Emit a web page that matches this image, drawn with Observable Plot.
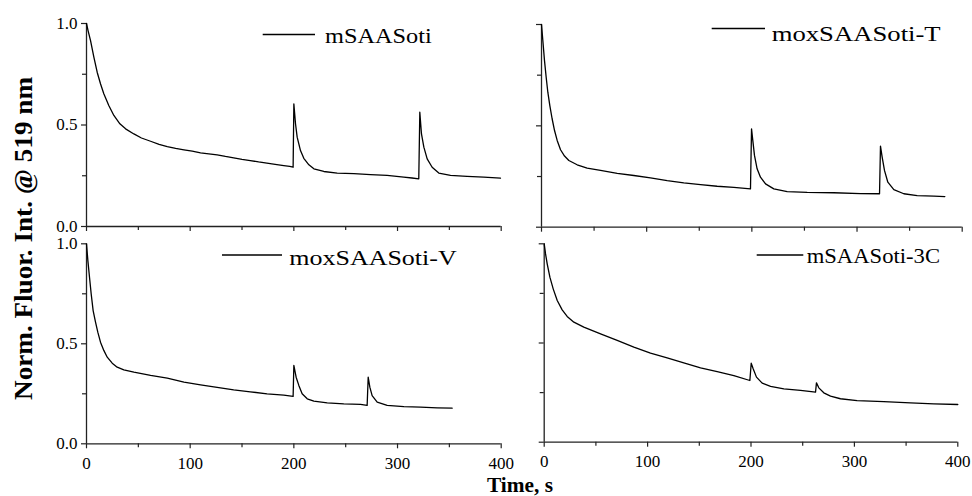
<!DOCTYPE html>
<html><head><meta charset="utf-8">
<script src="https://cdn.jsdelivr.net/npm/d3@7"></script>
<script src="https://cdn.jsdelivr.net/npm/@observablehq/plot@0.6"></script>
<style>
body{margin:0;background:#fff;}
#chart{position:relative;width:972px;height:496px;}
#chart svg{position:absolute;left:0;top:0;overflow:visible;}
#chart svg, #chart svg text{font-family:"Liberation Serif","Times New Roman","Nimbus Roman","DejaVu Serif",serif !important;}
</style></head><body><div id="chart"></div>
<script>
// Series names (legend labels)
const names = ["mSAASoti", "moxSAASoti-T", "moxSAASoti-V", "mSAASoti-3C"];

// mSAASoti
const tA = [0,1.5,3.9,7.1,10.3,13.5,16.7,21.5,26.4,32.2,37.7,45.7,53,61.8,70,77.9,86,94,102,110,118,126,134,142,150,158,166,174,182,190.3,196,199.3,
  200,201.6,203.2,206.4,209.6,214.5,219.3,228.9,241.8,257.9,273.9,290,306,314,320.5,
  321.5,323.1,325.4,328.6,333.4,339.8,351.1,367.1,383.2,399.3];
const vA = [1.0,0.965,0.916,0.834,0.760,0.703,0.654,0.596,0.547,0.506,0.481,0.456,0.436,0.420,0.405,0.394,0.385,0.378,0.371,0.363,0.358,0.353,0.345,0.338,0.331,0.325,0.318,0.312,0.306,0.300,0.296,0.292,
  0.604,0.506,0.440,0.374,0.336,0.304,0.284,0.271,0.263,0.260,0.256,0.252,0.243,0.239,0.235,
  0.563,0.456,0.391,0.333,0.292,0.263,0.252,0.247,0.243,0.238];

// moxSAASoti-T
const tB = [0,1.27,2.85,4.44,6.02,7.92,10.1,12.4,14.9,18.1,21.9,26,33.9,43.4,56.1,72,87.8,103.6,119.5,135.3,151.2,167,182.9,198.7,
  199.7,200.9,202.5,205,208.2,213,220.9,233.6,252.6,278,303.3,321.4,
  322.3,323.9,326.1,329.3,335,344.5,357.2,373.1,383.5];
const vB = [1.0,0.921,0.822,0.740,0.666,0.600,0.535,0.477,0.428,0.382,0.351,0.329,0.308,0.291,0.280,0.266,0.255,0.243,0.230,0.219,0.210,0.202,0.196,0.189,
  0.485,0.428,0.354,0.288,0.247,0.214,0.189,0.176,0.172,0.170,0.166,0.165,
  0.400,0.346,0.280,0.222,0.185,0.165,0.156,0.153,0.151];

// moxSAASoti-V
const tC = [0,1.3,2.9,4.5,6.4,8.7,10.9,13.5,16.7,20,24.8,29.6,36,45.7,61.8,77.9,94,110,126,142,158,174.2,190.3,199.3,
  200,202.2,204.8,208,212.9,219.3,232.2,248.2,264.3,270.7,
  271.7,273.3,275.5,280.4,290,306.1,322.2,338.3,352.7];
const vC = [1.0,0.917,0.833,0.750,0.666,0.608,0.558,0.508,0.467,0.433,0.403,0.383,0.370,0.358,0.342,0.328,0.308,0.295,0.282,0.270,0.260,0.250,0.243,0.237,
  0.392,0.333,0.292,0.250,0.225,0.213,0.205,0.200,0.197,0.192,
  0.333,0.283,0.241,0.208,0.192,0.186,0.183,0.180,0.178];

// mSAASoti-3C
const tD = [0,1.3,2.9,5.5,8.7,12.6,17.4,22.2,28.7,38.3,54.5,70.6,86.7,102.8,118.9,135,151.2,167.3,183.4,198.9,
  200.2,202.1,205.3,210.8,218.9,231.8,247.9,262.4,
  263.3,265.6,270.4,276.9,286.5,302.6,328.4,354.2,376.8,400];
const vD = [1.0,0.949,0.899,0.832,0.773,0.714,0.667,0.634,0.605,0.580,0.546,0.513,0.479,0.449,0.425,0.400,0.375,0.356,0.336,0.311,
  0.398,0.370,0.328,0.298,0.281,0.269,0.261,0.252,
  0.299,0.274,0.249,0.232,0.219,0.210,0.205,0.198,0.193,0.190];

// Axis ticks and titles
const xTicks = [0, 100, 200, 300, 400];
const xMinor = [50, 150, 250, 350];
const yTicks = [0, 0.5, 1.0];
const yMinor = [0.25, 0.75];
const yTitle = "Norm. Fluor. Int. @ 519 nm";
const xTitle = "Time, s";

const series = [[tA, vA], [tB, vB], [tC, vC], [tD, vD]];

// layout: plot box [left, right, top, bottom] in px; legend geometry
const panels = [
  {box: [86, 500.7, 23, 226],    yLab: true,  xLab: false, leg: {x1: 262.7, x2: 315, ly: 34.5, tx: 325, ty: 43.3, fs: 22, w: 106.7}},
  {box: [541, 961.7, 24, 226.7], yLab: false, xLab: false, leg: {x1: 711.7, x2: 765, ly: 28.5, tx: 771.7, ty: 41.3, fs: 22, w: 169}},
  {box: [86, 500.7, 243.3, 443.3], yLab: true, xLab: true, leg: {x1: 222, x2: 282, ly: 255, tx: 289.3, ty: 265, fs: 22, w: 167.4}},
  {box: [543.7, 957.3, 243.3, 441.7], yLab: false, xLab: true, leg: {x1: 756.7, x2: 803.3, ly: 255, tx: 806.7, ty: 263.3, fs: 21, w: 133.3}}
];

const W = 972, H = 496;
const chart = document.getElementById("chart");
const axisColor = "#222";
const blank = () => "";
const serif = '"Liberation Serif","Times New Roman",serif';

panels.forEach((p, i) => {
  const [t, v] = series[i];
  const data = t.map((d, k) => ({t: d, v: v[k]}));
  const [l, r, tp, b] = p.box;
  const svg = Plot.plot({
    width: W, height: H,
    marginLeft: l, marginRight: W - r, marginTop: tp, marginBottom: H - b,
    x: {domain: [0, 400]},
    y: {domain: [0, 1]},
    style: {background: "transparent", fontFamily: serif, fontSize: "17px", color: axisColor, overflow: "visible"},
    marks: [
      Plot.axisX({ticks: xTicks, tickSize: 5, tickPadding: 8, tickFormat: p.xLab ? (d => String(d)) : blank, label: null, stroke: axisColor, strokeWidth: 1.2, fill: "#000"}),
      Plot.axisX({ticks: xMinor, tickSize: 4, tickFormat: blank, label: null, stroke: axisColor, strokeWidth: 1.2}),
      Plot.axisY({ticks: yTicks, tickSize: 5, tickPadding: 4, tickFormat: p.yLab ? d3.format(".1f") : blank, label: null, stroke: axisColor, strokeWidth: 1.2, fill: "#000"}),
      Plot.axisY({ticks: yMinor, tickSize: 4, tickFormat: blank, label: null, stroke: axisColor, strokeWidth: 1.2}),
      Plot.ruleX([0], {stroke: axisColor, strokeWidth: 1.3}),
      Plot.ruleY([0], {stroke: axisColor, strokeWidth: 1.3}),
      Plot.line(data, {x: "t", y: "v", stroke: "#000", strokeWidth: 1.3, strokeLinejoin: "round"})
    ]
  });
  chart.appendChild(svg);
});

// overlay: legends and axis titles
const ov = d3.select(chart).append("svg").attr("width", W).attr("height", H)
  .style("font-family", serif);

panels.forEach((p, i) => {
  const g = p.leg;
  ov.append("line").attr("x1", g.x1).attr("x2", g.x2).attr("y1", g.ly).attr("y2", g.ly)
    .attr("stroke", "#000").attr("stroke-width", 1.3);
  ov.append("text").attr("x", g.tx).attr("y", g.ty).attr("font-size", g.fs).attr("fill", "#000")
    .attr("textLength", g.w).attr("lengthAdjust", "spacingAndGlyphs")
    .text(names[i]);
});

ov.append("text")
  .attr("transform", "translate(32,238.5) rotate(-90)")
  .attr("text-anchor", "middle").attr("font-weight", "bold").attr("font-size", 25).attr("fill", "#000")
  .attr("textLength", 323).attr("lengthAdjust", "spacingAndGlyphs")
  .text(yTitle);
ov.append("text")
  .attr("x", 520).attr("y", 492).attr("text-anchor", "middle")
  .attr("font-weight", "bold").attr("font-size", 21).attr("fill", "#000")
  .attr("textLength", 66).attr("lengthAdjust", "spacingAndGlyphs")
  .text(xTitle);
</script></body></html>
